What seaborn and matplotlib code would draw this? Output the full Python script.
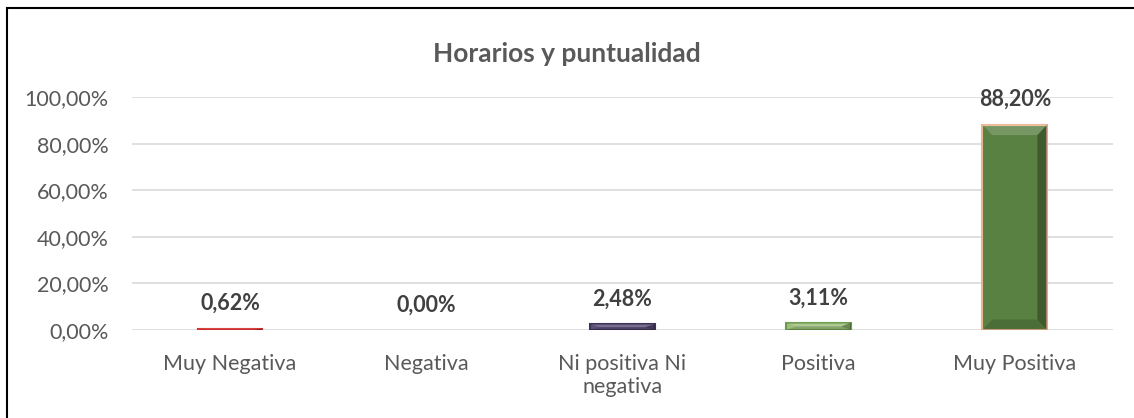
import matplotlib
matplotlib.use('Agg')

import matplotlib.pyplot as plt
import matplotlib.patches as mpatches
import seaborn as sns
import pandas as pd

categories = ['Muy Negativa', 'Negativa', 'Ni positiva Ni\nnegativa', 'Positiva', 'Muy Positiva']
values = [0.0062, 0.0, 0.0248, 0.0311, 0.882]
labels = ['0,62%', '0,00%', '2,48%', '3,11%', '88,20%']
yticks = [0.0, 0.2, 0.4, 0.6, 0.8, 1.0]
ytick_labels = ['0,00%', '20,00%', '40,00%', '60,00%', '80,00%', '100,00%']

colors = ['#E8413F', '#7F7F7F', '#5B4A80', '#9CCB72', '#568B38']
edges = ['#D83230', 'none', '#3E3258', '#6E9B4A', '#E8B58F']


def add_bevel(ax, bar):
    # fake the excel bevel: light top, dark right/bottom
    x0, w, h = bar.get_x(), bar.get_width(), bar.get_height()
    if h <= 0:
        return
    bx = 0.05
    by = min(0.045, h / 2)
    x1 = x0 + w
    top = [(x0, h), (x1, h), (x1 - bx, h - by), (x0 + bx, h - by)]
    right = [(x1, h), (x1, 0), (x1 - bx, by), (x1 - bx, h - by)]
    bottom = [(x0, 0), (x1, 0), (x1 - bx, by), (x0 + bx, by)]
    ax.add_patch(mpatches.Polygon(top, closed=True, color='white', alpha=0.18, lw=0, zorder=4))
    ax.add_patch(mpatches.Polygon(right, closed=True, color='black', alpha=0.3, lw=0, zorder=4))
    ax.add_patch(mpatches.Polygon(bottom, closed=True, color='black', alpha=0.15, lw=0, zorder=4))


def main():
    sns.set_style('white')
    plt.rcParams['font.family'] = ['Lato', 'DejaVu Sans']
    df = pd.DataFrame({'cat': categories, 'val': values})

    fig = plt.figure(figsize=(11.34, 4.18), dpi=100)
    ax = fig.add_axes([0.1164, 0.2105, 0.865, 0.557])

    sns.barplot(data=df, x='cat', y='val', hue='cat', palette=colors,
                width=0.33, legend=False, ax=ax, zorder=3)
    for bar, ec in zip(list(ax.patches), edges):
        bar.set_edgecolor(ec)
        bar.set_linewidth(1.5)
        add_bevel(ax, bar)

    ax.set_ylim(0, 1.0)
    ax.set_xlim(-0.5, 4.5)
    ax.set_yticks(yticks)
    ax.set_yticklabels(ytick_labels)
    ax.grid(axis='y', color='#D9D9D9', linewidth=1.2, zorder=0)
    for s in ax.spines.values():
        s.set_visible(False)
    ax.tick_params(axis='both', length=0, labelsize=15.5, labelcolor='#595959')
    ax.tick_params(axis='x', pad=17)
    ax.tick_params(axis='y', pad=17)
    ax.set_xlabel('')
    ax.set_ylabel('')

    for i, (v, lab) in enumerate(zip(values, labels)):
        ax.annotate(lab, (i, v), xytext=(0, 18), textcoords='offset points',
                    ha='center', va='center', fontsize=15.5, fontweight='bold',
                    color='#404040')

    fig.text(0.5, 0.872, 'Horarios y puntualidad', ha='center', va='center',
             fontsize=19, fontweight='bold', color='#595959')

    # outer chart frame (cut off by image on right and bottom)
    frame = mpatches.Rectangle((7 / 1134, -0.1), 1.2, 1.1 - 8 / 418,
                               transform=fig.transFigure, fill=False,
                               edgecolor='black', linewidth=1.5)
    fig.patches.append(frame)

    fig.savefig('out.png', dpi=100)


if __name__ == "__main__":
    main()
